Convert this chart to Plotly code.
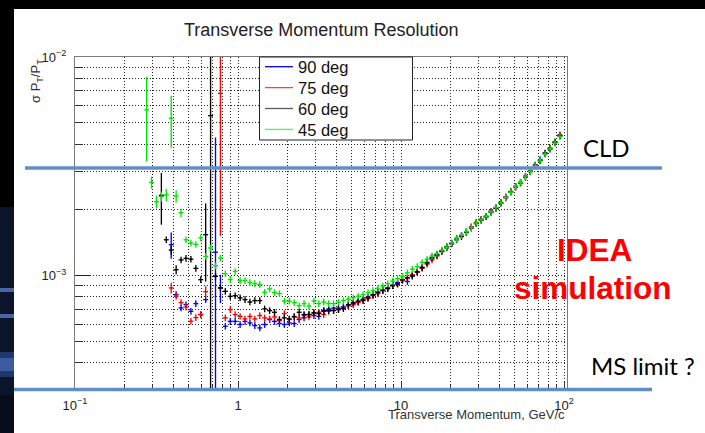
import numpy as np
import plotly.graph_objects as go

# Transverse momentum bin centres (GeV/c), log-spaced
PT = [0.275, 0.2947, 0.316, 0.3387, 0.3631, 0.3892, 0.4173, 0.4473, 0.4795, 0.514,
      0.551, 0.5907, 0.6332, 0.6787, 0.7276, 0.7799, 0.836, 0.8962, 0.9605, 1.030,
      1.104, 1.183, 1.268, 1.360, 1.457, 1.562, 1.675, 1.795, 1.924, 2.063,
      2.211, 2.371, 2.541, 2.724, 2.920, 3.130, 3.356, 3.597, 3.856, 4.134,
      4.431, 4.750, 5.092, 5.458, 5.851, 6.272, 6.724, 7.208, 7.726, 8.283,
      8.879, 9.517, 10.20, 10.94, 11.72, 12.57, 13.47, 14.44, 15.48, 16.60,
      17.79, 19.07, 20.44, 21.91, 23.49, 25.18, 26.99, 28.93, 31.01, 33.25,
      35.64, 38.20, 40.95, 43.89, 47.05, 50.44, 54.07, 57.96, 62.13, 66.60,
      71.39, 76.53, 82.03, 87.93, 94.28]

# sigma(pT)/pT in units of 1e-3, one list per polar angle (None = empty bin)
RES_45 = [5.73, 2.67, 2.18, 2.30, 2.34, 5.25, 2.31, 1.94, 1.46, 1.41,
          1.39, 1.49, 1.225, 1.338, 1.11, 1.205, 1.02, 0.96, 1.046, 0.949,
          0.95, 0.93, 0.92, 0.91, 0.84, 0.87, 0.836, 0.828, 0.765, 0.765,
          0.753, 0.729, 0.745, 0.726, 0.765, 0.745, 0.757, 0.745, 0.745, 0.757,
          0.769, 0.781, 0.793, 0.806, 0.818, 0.836, 0.855, 0.876, 0.897, 0.919,
          0.944, 0.969, 0.995, 1.03, 1.07, 1.10, 1.15, 1.19, 1.23, 1.26,
          1.31, 1.35, 1.41, 1.47, 1.53, 1.59, 1.66, 1.74, 1.80, 1.87,
          1.96, 2.05, 2.15, 2.28, 2.41, 2.55, 2.67, 2.83, 3.00, 3.19,
          3.38, 3.60, 3.80, 4.04, 4.33]

RES_60 = [None, None, None, 2.33, 1.46, 1.31, 1.065, 1.18, 1.20, 1.19,
          1.08, 0.959, 1.54, 5.39, 0.993, 0.879, 0.848, 0.804, 0.810, 0.791,
          0.777, 0.758, 0.769, 0.769, 0.705, 0.692, 0.680, 0.630, 0.641, 0.634,
          0.648, 0.680, 0.664, 0.664, 0.678, 0.671, 0.687, 0.694, 0.694, 0.700,
          0.707, 0.737, 0.753, 0.765, 0.773, 0.793, 0.819, 0.841, 0.859, 0.872,
          0.900, 0.915, 0.959, 0.979, 0.995, 1.04, 1.09, 1.15, 1.21, 1.24,
          1.29, 1.34, 1.40, 1.46, 1.51, 1.58, 1.65, 1.73, 1.79, 1.86,
          1.95, 2.03, 2.14, 2.27, 2.41, 2.54, 2.66, 2.82, 2.99, 3.21,
          3.36, 3.63, 3.79, 4.06, 4.35]

RES_75 = [None, None, None, None, None, 0.879, 0.806, 0.753, 0.718, 0.619,
          0.643, 0.664, 0.845, None, None, 6.82, 0.641, 0.700, 0.664, 0.651,
          0.634, 0.651, 0.634, 0.657, 0.641, 0.634, 0.648, 0.623, 0.671, 0.630,
          0.651, 0.641, 0.657, 0.648, 0.671, 0.680, 0.664, 0.687, 0.692, 0.700,
          0.714, 0.729, 0.737, 0.753, 0.769, 0.785, 0.810, 0.828, 0.855, 0.877,
          0.900, 0.919, 0.949, 0.974, 1.01, 1.04, 1.08, 1.13, 1.18, 1.23,
          1.29, 1.35, 1.40, 1.47, 1.52, 1.58, 1.67, 1.75, 1.81, 1.86,
          1.97, 2.04, 2.16, 2.29, 2.43, 2.56, 2.65, 2.84, 3.01, 3.18,
          3.36, 3.61, 3.83, 4.08, 4.39]

RES_90 = [None, None, None, None, None, 1.386, 0.819, 0.712, 0.737, 0.687,
          0.745, 0.664, 0.777, None, 1.28, 0.879, 0.587, 0.618, 0.618, 0.598,
          0.618, 0.608, 0.591, 0.577, 0.598, 0.630, 0.618, 0.604, 0.598, 0.608,
          0.604, 0.630, 0.641, 0.664, 0.657, 0.651, 0.694, 0.704, 0.71, 0.71,
          0.72, 0.73, 0.745, 0.76, 0.78, 0.795, 0.815, 0.835, 0.855, 0.88,
          0.905, 0.93, 0.955, 0.94, 1.00, 1.04, 1.09, 1.14, 1.20, 1.25,
          1.30, 1.36, 1.41, 1.48, 1.53, 1.59, 1.67, 1.75, 1.81, 1.87,
          1.97, 2.05, 2.16, 2.29, 2.42, 2.56, 2.67, 2.85, 3.01, 3.20,
          3.40, 3.64, 3.82, 4.09, 4.40]

# Statistical uncertainties (1e-3 units): default relative error plus the wider bins
REL_ERR = 0.035
ERR_45 = {0: 2.4, 1: 0.17, 2: 0.15, 3: 0.12, 4: 0.15, 5: 1.4, 6: 0.15, 7: 0.09}
ERR_60 = {3: 0.62, 4: 0.05, 5: 0.06, 6: 0.05, 12: 0.6, 13: 6.0}
ERR_75 = {5: 0.05, 12: 0.05, 15: 5.3}
ERR_90 = {5: 0.19, 14: 3.0, 15: 0.13}

SERIES = [
    ("90 deg", RES_90, ERR_90, "#0000ff"),
    ("75 deg", RES_75, ERR_75, "#ff0000"),
    ("60 deg", RES_60, ERR_60, "#000000"),
    ("45 deg", RES_45, ERR_45, "#00e600"),
]
LEGEND_LINE = {"90 deg": "#0000ee", "75 deg": "#ff4040", "60 deg": "#5a5a5a", "45 deg": "#44ff44"}

X_TICKS = [0.1, 1, 10, 100]
X_TICKTEXT = ["10<sup>\u22121</sup>", "1", "10", "10<sup>2</sup>"]
Y_TICKS = [1e-3, 1e-2]
Y_TICKTEXT = ["10<sup>\u22123</sup>", "10<sup>\u22122</sup>"]
X_MINOR = [m * d for d in (0.1, 1, 10) for m in range(2, 10)]
Y_MINOR = [m * 1e-4 for m in range(4, 10)] + [m * 1e-3 for m in range(2, 10)]

# page geometry (pixels) of the plotting frame
W, H = 705, 433
FL, FR, FT, FB = 75, 567, 57, 390


def px(x):
    return (x - FL) / (FR - FL)


def py(y):
    return (FB - y) / (FB - FT)


# bin edges from geometric midpoints between neighbouring centres
pt = np.array(PT)
mids = np.sqrt(pt[1:] * pt[:-1])
lo_edges = np.concatenate([[pt[0] ** 2 / mids[0]], mids])
hi_edges = np.concatenate([mids, [pt[-1] ** 2 / mids[-1]]])

fig = go.Figure()
for name, res, errs, color in SERIES:
    xs, ys, ey, exp, exm = [], [], [], [], []
    for i, v in enumerate(res):
        if v is None:
            continue
        xs.append(pt[i])
        ys.append(v * 1e-3)
        ey.append(errs.get(i, REL_ERR * v) * 1e-3)
        exp.append(hi_edges[i] - pt[i])
        exm.append(pt[i] - lo_edges[i])
    fig.add_trace(go.Scatter(
        x=xs, y=ys, mode="markers", name=name, showlegend=False,
        marker=dict(size=1.5, color=color),
        error_y=dict(type="data", array=ey, symmetric=True, color=color,
                     thickness=1.35, width=0),
        error_x=dict(type="data", array=exp, arrayminus=exm, symmetric=False,
                     color=color, thickness=1.35, width=0),
        cliponaxis=True,
    ))

axis_font = dict(family="Liberation Sans, Arial, sans-serif", size=13, color="#222")
grid = dict(showgrid=True, gridcolor="#222", griddash="1px,2px", gridwidth=1)

fig.update_xaxes(
    type="log", range=[-1.0, 2.018], tickmode="array", tickvals=X_TICKS,
    ticktext=X_TICKTEXT, ticks="inside", ticklen=9, tickcolor="#333",
    showline=True, mirror=True, linecolor="#7a7a7a", linewidth=1.2,
    zeroline=False, tickfont=axis_font, ticklabelstandoff=3,
    minor=dict(tickmode="array", tickvals=X_MINOR, ticks="inside", ticklen=5,
               tickcolor="#333", **grid),
    **grid,
)
fig.update_yaxes(
    type="log", range=[np.log10(3e-4), -2], tickmode="array", tickvals=Y_TICKS,
    ticktext=Y_TICKTEXT, ticks="inside", ticklen=15, tickcolor="#222",
    showline=True, mirror=True, linecolor="#7a7a7a", linewidth=1.2,
    zeroline=False, tickfont=axis_font, ticklabelstandoff=5,
    minor=dict(tickmode="array", tickvals=Y_MINOR, ticks="inside", ticklen=8,
               tickcolor="#333", **grid),
    **grid,
)

shapes = []
annotations = []

# slide framing: dark top band and left strip
shapes.append(dict(type="rect", xref="paper", yref="paper", x0=px(0), x1=px(W),
                   y0=py(0), y1=py(9), fillcolor="#000", line_width=0, layer="above"))
strip = [(0, 207, "#000000"), (207, 433, "#0b1429"), (288, 292, "#4665a3"),
         (314, 318, "#4665a3"), (352, 358, "#1e386e"), (358, 371, "#3b5c9e"),
         (371, 377, "#1e386e"), (395, 433, "#070d1c")]
for y0, y1, c in strip:
    shapes.append(dict(type="rect", xref="paper", yref="paper", x0=px(0), x1=px(14),
                       y0=py(y0), y1=py(y1), fillcolor=c, line_width=0, layer="above"))

# reference levels drawn over the plot
shapes.append(dict(type="line", xref="paper", yref="paper", x0=px(25), x1=px(662),
                   y0=py(168), y1=py(168), line=dict(color="#5f8fc4", width=3.5), layer="above"))
shapes.append(dict(type="line", xref="paper", yref="paper", x0=px(14), x1=px(652),
                   y0=py(389.5), y1=py(389.5), line=dict(color="#5f8fc4", width=3.5), layer="above"))

# legend box
LX0, LX1, LY0, LY1 = 259.5, 412.5, 57, 140
shapes.append(dict(type="rect", xref="paper", yref="paper", x0=px(LX0), x1=px(LX1),
                   y0=py(LY0), y1=py(LY1), fillcolor="white",
                   line=dict(color="#222", width=1), layer="above"))
for j, (name, _, _, _) in enumerate(SERIES):
    yc = 66.7 + j * 20.9
    shapes.append(dict(type="line", xref="paper", yref="paper", x0=px(265), x1=px(293),
                       y0=py(yc), y1=py(yc), line=dict(color=LEGEND_LINE[name], width=1.3),
                       layer="above"))
    annotations.append(dict(xref="paper", yref="paper", x=px(296), y=py(yc + 0.5),
                            xanchor="left", yanchor="middle", showarrow=False, text=name,
                            font=dict(family="Liberation Sans, Arial", size=16.5, color="#111")))

# titles
annotations.append(dict(xref="paper", yref="paper", x=px(321), y=py(29.5), xanchor="center",
                        yanchor="middle", showarrow=False, text="Transverse Momentum Resolution",
                        font=dict(family="Liberation Sans, Arial", size=18, color="#222")))
annotations.append(dict(xref="paper", yref="paper", x=px(567), y=py(414), xanchor="right",
                        yanchor="middle", showarrow=False, text="Transverse Momentum, GeV/c",
                        font=dict(family="Liberation Sans, Arial", size=13, color="#333")))
annotations.append(dict(xref="paper", yref="paper", x=px(36), y=py(57), xanchor="center",
                        yanchor="top", showarrow=False, textangle=-90,
                        text="\u03c3 P<sub>T</sub>/P<sub>T</sub>",
                        font=dict(family="Liberation Sans, Arial", size=13, color="#333")))

# slide labels
annotations.append(dict(xref="paper", yref="paper", x=px(581), y=py(147), xanchor="left",
                        yanchor="middle", showarrow=False, text="CLD",
                        font=dict(family="Lato", size=24, color="#000")))
annotations.append(dict(xref="paper", yref="paper", x=px(589), y=py(365), xanchor="left",
                        yanchor="middle", showarrow=False, text="MS limit ?",
                        font=dict(family="Lato", size=24, color="#000")))
annotations.append(dict(xref="paper", yref="paper", x=px(594), y=py(250), xanchor="center",
                        yanchor="middle", showarrow=False, text="<b>IDEA</b>",
                        font=dict(family="Liberation Sans, Arial", size=31.5, color="#ff0000")))
annotations.append(dict(xref="paper", yref="paper", x=px(593), y=py(288), xanchor="center",
                        yanchor="middle", showarrow=False, text="<b>simulation</b>",
                        font=dict(family="Liberation Sans, Arial", size=31.5, color="#ff0000")))

fig.update_layout(
    width=W, height=H, autosize=False,
    margin=dict(l=FL, r=W - FR, t=FT, b=H - FB, pad=0),
    paper_bgcolor="white", plot_bgcolor="white",
    shapes=shapes, annotations=annotations, showlegend=False,
)

fig.write_html("out.html")
